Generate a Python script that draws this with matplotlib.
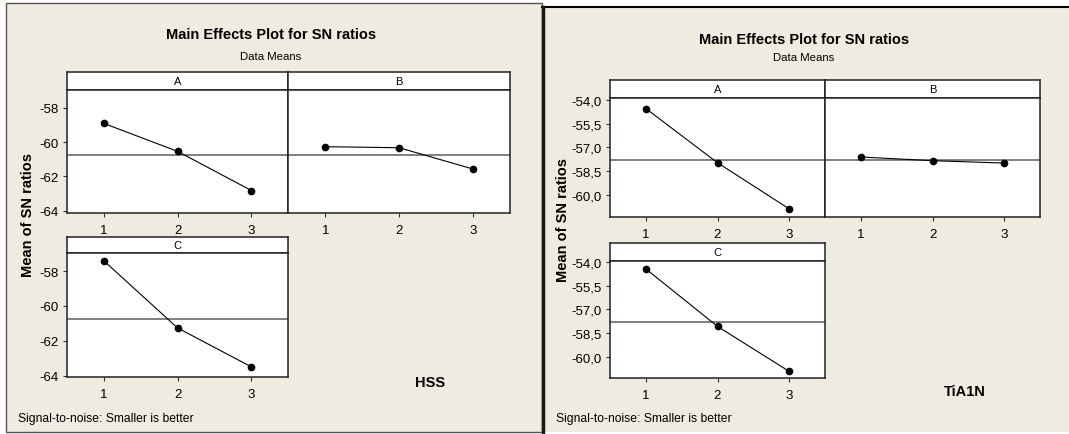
import numpy as np
import matplotlib
matplotlib.use("Agg")
import matplotlib.pyplot as plt
from matplotlib.patches import Rectangle
from matplotlib.ticker import FuncFormatter

# data
levels = [1, 2, 3]
factors = ["A", "B", "C"]
hss_A = [-58.91, -60.54, -62.82]
hss_B = [-60.27, -60.33, -61.57]
hss_C = [-57.39, -61.26, -63.50]
tialn_A = [-54.56, -57.96, -60.85]
tialn_B = [-57.60, -57.83, -57.98]
tialn_C = [-54.42, -58.08, -60.94]
hss_yticks = [-58, -60, -62, -64]
tialn_yticks = [-54.0, -55.5, -57.0, -58.5, -60.0]

W, H = 1069, 435
BG = "#EFEBE1"
plt.rcParams['font.family'] = ['Liberation Sans', 'DejaVu Sans']

fig = plt.figure(figsize=(W / 100, H / 100), dpi=100)


def box(x0, y0, x1, y1):
    return [x0 / W, 1 - y1 / H, (x1 - x0) / W, (y1 - y0) / H]


def fx(x):
    return x / W


def fy(y):
    return 1 - y / H


# panel backgrounds
bg = fig.add_axes([0, 0, 1, 1])
bg.set_xlim(0, W)
bg.set_ylim(H, 0)
bg.axis("off")
bg.add_patch(Rectangle((6, 4), 536, 429, facecolor=BG, edgecolor="#555555", lw=1.0))
bg.add_patch(Rectangle((542, 8), 540, 425, facecolor=BG, edgecolor="none"))
bg.plot([542, 1069], [8, 8], color="black", lw=1.5)
bg.plot([542.5, 542.5], [8, 435], color="#1a1a1a", lw=2.5)


def facet(x0, x1, ystrip, ytop, ybot, vals, name, grand, ylim, yticks, fmt, showy):
    st = fig.add_axes(box(x0, ystrip, x1, ytop))
    st.set_xticks([])
    st.set_yticks([])
    st.set_facecolor("white")
    for s in st.spines.values():
        s.set_color("#222222")
        s.set_linewidth(1.1)
    st.text(0.5, 0.5, name, ha="center", va="center", fontsize=8,
            transform=st.transAxes)

    ax = fig.add_axes(box(x0, ytop, x1, ybot))
    ax.set_facecolor("white")
    ax.axhline(grand, color="#808080", lw=1.4, zorder=1)
    ax.plot(levels, vals, color="black", lw=0.8, marker="o", markersize=4.5, zorder=3)
    ax.set_xlim(0.5, 3.5)
    ax.set_ylim(*ylim)
    ax.set_xticks(levels)
    ax.set_yticks(yticks)
    ax.yaxis.set_major_formatter(FuncFormatter(fmt))
    ax.tick_params(direction="out", length=3, width=0.8, color="#333333",
                   labelsize=9.5, pad=3)
    ax.tick_params(axis="x", pad=5)
    if not showy:
        ax.tick_params(axis="y", left=False, labelleft=False)
    for s in ax.spines.values():
        s.set_color("#222222")
        s.set_linewidth(1.1)
    return ax


def fmt_int(v, p):
    return "%d" % round(v)


def fmt_comma(v, p):
    return ("%.1f" % v).replace(".", ",")


# left panel: HSS
g1 = np.mean(hss_A + hss_B + hss_C)
lim1 = (-64.1, -56.97)
facet(66.7, 288.3, 73.3, 91, 213.5, hss_A, "A", g1, lim1, hss_yticks, fmt_int, True)
facet(288.3, 510, 73.3, 91, 213.5, hss_B, "B", g1, lim1, hss_yticks, fmt_int, False)
facet(66.7, 288.3, 238.3, 254.3, 378.3, hss_C, "C", g1, lim1, hss_yticks, fmt_int, True)

# right panel: TiA1N
g2 = np.mean(tialn_A + tialn_B + tialn_C)
lim2 = (-61.38, -53.9)
facet(610, 825, 81, 99, 218.3, tialn_A, "A", g2, lim2, tialn_yticks, fmt_comma, True)
facet(825, 1040, 81, 99, 218.3, tialn_B, "B", g2, lim2, tialn_yticks, fmt_comma, False)
facet(610, 825, 244.3, 261.7, 379.3, tialn_C, "C", g2, lim2, tialn_yticks, fmt_comma, True)

# texts
for cx, ty, dy in [(271, 35, 57), (804, 40, 58.5)]:
    fig.text(fx(cx), fy(ty), "Main Effects Plot for SN ratios", ha="center", va="center",
             fontsize=10.5, fontweight="bold")
    fig.text(fx(cx), fy(dy), "Data Means", ha="center", va="center", fontsize=8.2)

for lx, ly in [(28, 215), (563, 220)]:
    fig.text(fx(lx), fy(ly), "Mean of SN ratios", rotation=90, ha="center", va="center",
             fontsize=10.5, fontweight="bold")

fig.text(fx(430), fy(383), "HSS", ha="center", va="center", fontsize=10.5, fontweight="bold")
fig.text(fx(965), fy(392), "TiA1N", ha="center", va="center", fontsize=10.5, fontweight="bold")

for sx in [18, 556]:
    fig.text(fx(sx), fy(419), "Signal-to-noise: Smaller is better", ha="left", va="center",
             fontsize=8.7)

fig.savefig("out.png", dpi=100)
